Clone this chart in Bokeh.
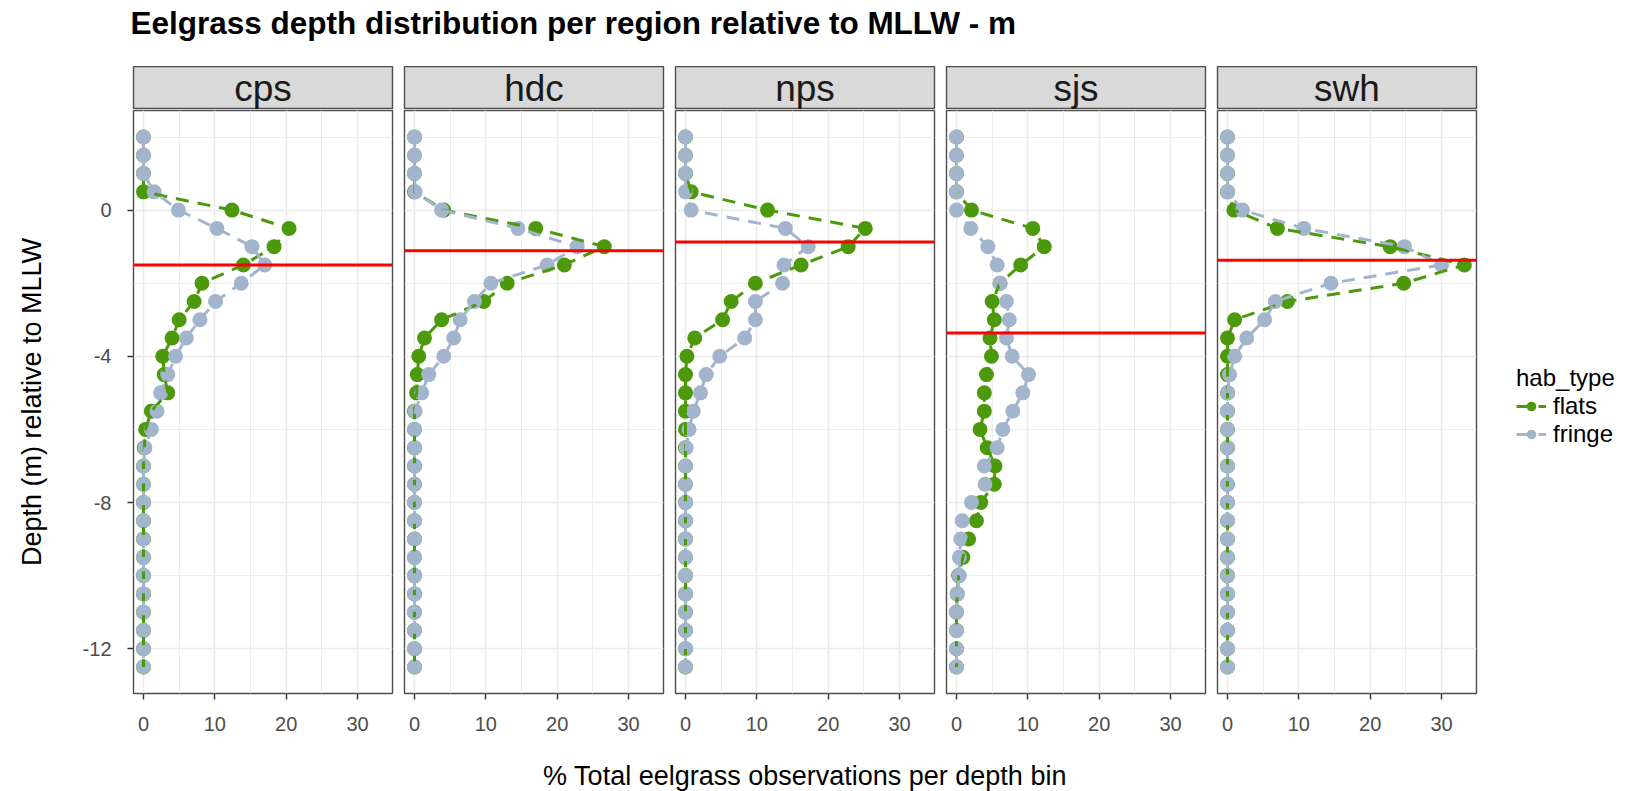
from bokeh.plotting import figure
from bokeh.layouts import row, column
from bokeh.models import ColumnDataSource, FixedTicker, Range1d, Span, Legend, LegendItem
from bokeh.core.properties import value
from bokeh.embed import file_html
from bokeh.resources import INLINE

# ---------------- data ----------------
title_text = "Eelgrass depth distribution per region relative to MLLW - m"
x_title = "% Total eelgrass observations per depth bin"
y_title = "Depth (m) relative to MLLW"
regions = ["cps", "hdc", "nps", "sjs", "swh"]
hab_types = ["flats", "fringe"]
legend_title = "hab_type"

depth = [2.0, 1.5, 1.0, 0.5, 0.0, -0.5, -1.0, -1.5, -2.0, -2.5, -3.0, -3.5,
         -4.0, -4.5, -5.0, -5.5, -6.0, -6.5, -7.0, -7.5, -8.0, -8.5, -9.0,
         -9.5, -10.0, -10.5, -11.0, -11.5, -12.0, -12.5]

cps_flats = [0, 0, 0, 0, 12.4, 20.4, 18.3, 14.0, 8.2, 7.1, 5.0, 4.0, 2.7, 2.9, 3.4,
             1.1, 0.3, 0.1, 0, 0, 0, 0, 0, 0, 0, 0, 0, 0, 0, 0]
cps_fringe = [0, 0, 0, 1.5, 4.9, 10.3, 15.2, 17.0, 13.7, 10.1, 7.9, 6.0, 4.5, 3.4, 2.4,
              1.9, 1.1, 0.2, 0, 0, 0, 0, 0, 0, 0, 0, 0, 0, 0, 0]
hdc_flats = [0, 0, 0, 0, 4.1, 17.0, 26.6, 21.0, 13.0, 9.7, 3.8, 1.4, 0.6, 0.4, 0.3,
             0, 0, 0, 0, 0, 0, 0, 0, 0, 0, 0, 0, 0, 0, 0]
hdc_fringe = [0, 0, 0, 0.1, 3.8, 14.5, 22.8, 18.6, 10.7, 8.4, 6.4, 5.5, 4.1, 2.0, 1.0,
              0.1, 0, 0, 0, 0, 0, 0, 0, 0, 0, 0, 0, 0, 0, 0]
nps_flats = [0, 0, 0, 0.8, 11.5, 25.2, 22.8, 16.2, 9.8, 6.4, 5.2, 1.3, 0.2, 0, 0,
             0, 0, 0, 0, 0, 0, 0, 0, 0, 0, 0, 0, 0, 0, 0]
nps_fringe = [0, 0, 0, 0, 0.8, 14.0, 17.2, 13.8, 13.6, 9.8, 9.8, 8.3, 4.8, 2.9, 2.1,
              1.1, 0.5, 0.1, 0, 0, 0, 0, 0, 0, 0, 0, 0, 0, 0, 0]
sjs_flats = [0, 0, 0, 0, 2.1, 10.7, 12.3, 9.0, 6.1, 5.0, 5.3, 4.7, 4.9, 4.2, 3.9,
             3.9, 3.3, 4.3, 5.4, 5.3, 3.4, 2.8, 1.7, 0.9, 0.3, 0.1, 0, 0, 0, 0]
sjs_fringe = [0, 0, 0, 0, 0, 2.0, 4.4, 5.7, 6.1, 7.0, 7.4, 7.0, 7.8, 10.1, 9.3,
              7.9, 6.5, 5.7, 3.9, 4.0, 2.1, 0.8, 0.6, 0.4, 0.4, 0.1, 0, 0, 0, 0]
swh_flats = [0, 0, 0, 0, 0.9, 7.0, 22.8, 33.2, 24.7, 8.4, 1.0, 0, 0, 0, 0,
             0, 0, 0, 0, 0, 0, 0, 0, 0, 0, 0, 0, 0, 0, 0]
swh_fringe = [0, 0, 0, 0, 2.1, 10.7, 24.8, 30.0, 14.5, 6.7, 5.2, 2.7, 1.0, 0.3, 0,
              0, 0, 0, 0, 0, 0, 0, 0, 0, 0, 0, 0, 0, 0, 0]

mean_depth = [-1.50, -1.11, -0.87, -3.36, -1.37]

x_ticks = [0, 10, 20, 30]
x_minor = [5, 15, 25, 35]
y_ticks = [-12, -8, -4, 0]
y_minor = [-10, -6, -2, 2]

series = {
    "cps": (cps_flats, cps_fringe),
    "hdc": (hdc_flats, hdc_fringe),
    "nps": (nps_flats, nps_fringe),
    "sjs": (sjs_flats, sjs_fringe),
    "swh": (swh_flats, swh_fringe),
}

# ---------------- style ----------------
FONT = "Liberation Sans"
colors = {"flats": "#4C9A0C", "fringe": "#A2B5CD"}
FRAME_W, FRAME_H = 259, 583
STRIP_H = 43
TITLE_H = 66
BOTTOM_B = 50
XTITLE_H = 48
TOTAL_W = 1626
GRID_C = "#EBEBEB"
BORDER_C = "#4D4D4D"

x_range = Range1d(-1.4, 34.9)
y_range = Range1d(-13.225, 2.725)


def text_fig(h):
    f = figure(frame_width=TOTAL_W, frame_height=h, min_border=0,
               x_range=Range1d(0, TOTAL_W), y_range=Range1d(0, h),
               x_axis_location=None, y_axis_location=None,
               toolbar_location=None, output_backend="svg")
    f.grid.visible = False
    f.outline_line_color = None
    return f


# title
title_fig = text_fig(TITLE_H)
title_fig.text(x=[130], y=[TITLE_H - 22], text=[title_text], text_baseline="middle",
               text_align="left", text_font=value(FONT), text_font_size="31.5px",
               text_font_style="bold", text_color="#000000")

cols = []
panel_centers = []
left_edge = 0
for i, reg in enumerate(regions):
    left = 133 if i == 0 else 6
    right = 150 if i == len(regions) - 1 else 6
    panel_centers.append(left_edge + left + FRAME_W / 2)
    left_edge += left + FRAME_W + right

    strip = figure(frame_width=FRAME_W, frame_height=STRIP_H,
                   min_border_left=left, min_border_right=right,
                   min_border_top=0, min_border_bottom=0,
                   x_range=Range1d(0, 1), y_range=Range1d(0, 1),
                   x_axis_location=None, y_axis_location=None,
                   toolbar_location=None, output_backend="svg")
    strip.grid.visible = False
    strip.background_fill_color = "#D9D9D9"
    strip.outline_line_color = BORDER_C
    strip.outline_line_width = 1.4
    strip.text(x=[0.5], y=[0.5], text=[reg], text_align="center", text_baseline="middle",
               text_font=value(FONT), text_font_size="37px", text_color="#1A1A1A")

    p = figure(frame_width=FRAME_W, frame_height=FRAME_H,
               min_border_left=left, min_border_right=right,
               min_border_top=1, min_border_bottom=BOTTOM_B,
               x_range=x_range, y_range=y_range,
               y_axis_location="left" if i == 0 else None,
               toolbar_location=None, output_backend="svg")
    p.outline_line_color = BORDER_C
    p.outline_line_width = 1.4
    p.background_fill_color = "#FFFFFF"

    p.xgrid.ticker = FixedTicker(ticks=x_ticks, minor_ticks=x_minor)
    p.ygrid.ticker = FixedTicker(ticks=y_ticks, minor_ticks=y_minor)
    for g in (p.xgrid, p.ygrid):
        g.grid_line_color = GRID_C
        g.grid_line_width = 1.6
        g.minor_grid_line_color = GRID_C
        g.minor_grid_line_width = 0.9

    axes = [p.xaxis[0]] + ([p.yaxis[0]] if i == 0 else [])
    for ax in axes:
        ax.axis_line_color = None
        ax.major_tick_line_color = "#333333"
        ax.major_tick_line_width = 1.4
        ax.major_tick_in = 0
        ax.major_tick_out = 6
        ax.minor_tick_line_color = None
        ax.major_label_text_font = FONT
        ax.major_label_text_font_size = "20px"
        ax.major_label_text_color = "#4D4D4D"
        ax.axis_label_text_font = FONT
        ax.axis_label_text_font_size = "27px"
        ax.axis_label_text_font_style = "normal"
        ax.axis_label_text_color = "#000000"
    p.xaxis[0].ticker = FixedTicker(ticks=x_ticks, minor_ticks=x_minor)
    p.xaxis[0].major_label_standoff = 17
    if i == 0:
        yax = p.yaxis[0]
        yax.ticker = FixedTicker(ticks=y_ticks, minor_ticks=y_minor)
        yax.major_label_overrides = {t: str(t) for t in y_ticks}
        yax.major_label_standoff = 16
        yax.axis_label = y_title
        yax.axis_label_standoff = 33

    flats_vals, fringe_vals = series[reg]
    srcs = {
        "flats": ColumnDataSource(dict(x=flats_vals, y=depth)),
        "fringe": ColumnDataSource(dict(x=fringe_vals, y=depth)),
    }
    pts = {}
    for h in hab_types:
        pts[h] = p.scatter("x", "y", source=srcs[h], size=15, color=colors[h],
                           line_color=None)
    lns = {}
    for h in hab_types:
        lns[h] = p.line("x", "y", source=srcs[h], line_color=colors[h], line_width=3,
                        line_dash="13 9")

    p.add_layout(Span(location=mean_depth[i], dimension="width",
                      line_color="#FF0000", line_width=3))

    if i == len(regions) - 1:
        legend = Legend(
            items=[LegendItem(label=h, renderers=[lns[h], pts[h]]) for h in hab_types],
            location=(40, 245), title=legend_title,
            title_text_font=FONT, title_text_font_size="24px",
            title_text_font_style="normal", title_text_color="#000000",
            label_text_font=FONT, label_text_font_size="24px", label_text_color="#000000",
            border_line_color=None, background_fill_alpha=0,
            glyph_width=30, glyph_height=24, label_height=24, label_standoff=7,
            padding=0, margin=0, spacing=0, title_standoff=0,
        )
        p.add_layout(legend, "right")

    cols.append(column(strip, p))

# x axis title spanning the panels (centered on the middle of all panels)
xt_fig = text_fig(XTITLE_H)
xt_center = (panel_centers[0] + panel_centers[-1]) / 2
xt_fig.text(x=[xt_center], y=[XTITLE_H - 32], text=[x_title], text_baseline="middle",
            text_align="center", text_font=value(FONT), text_font_size="27px",
            text_color="#000000")

layout = column(title_fig, row(*cols), xt_fig)

with open("out.html", "w") as f:
    f.write(file_html(layout, INLINE))
